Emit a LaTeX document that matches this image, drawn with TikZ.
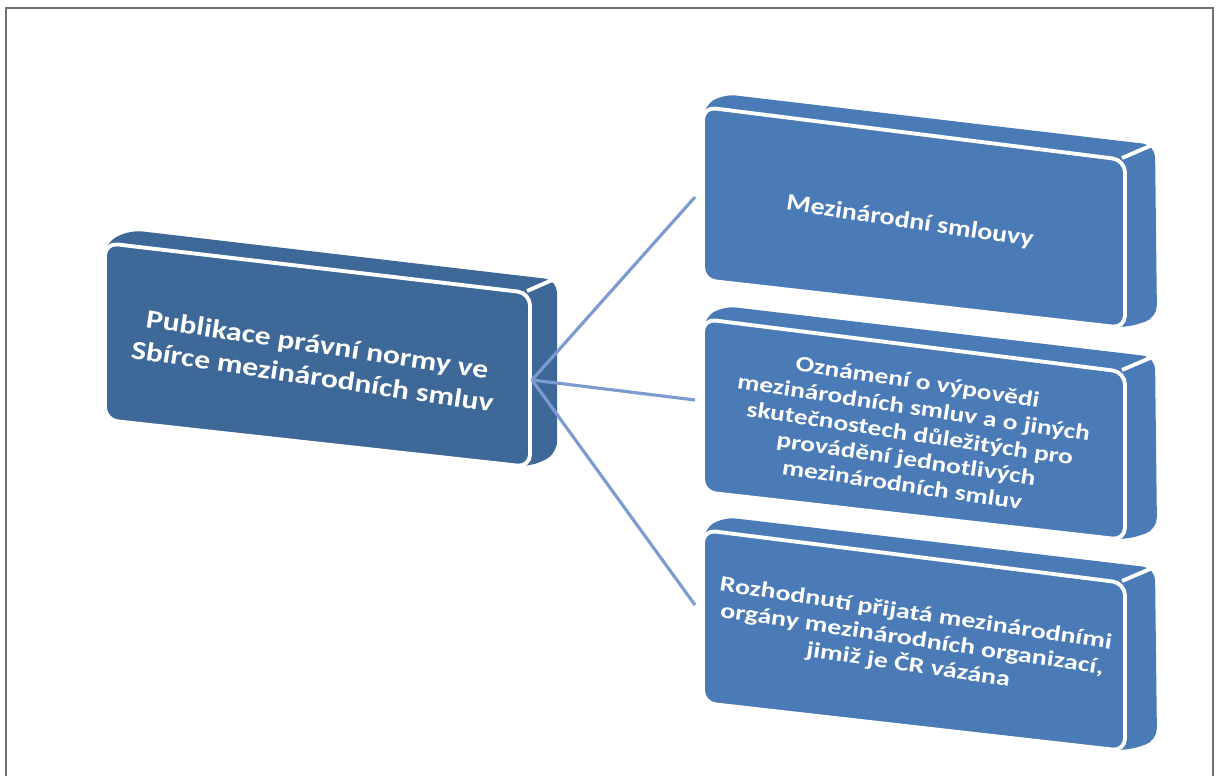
\documentclass[tikz,border=0pt]{standalone}
\usepackage{fontspec}
\setmainfont{Carlito}
\definecolor{darkslab}{HTML}{3D6897}
\definecolor{lightslab}{HTML}{4A7BB6}
\definecolor{spokeblue}{HTML}{7C9BD0}
\definecolor{framegray}{HTML}{707070}
\begin{document}
\begin{tikzpicture}[x=0.02cm, y=-0.02cm,
  backface/.style={rounded corners=0.25cm},
  frontface/.style={rounded corners=0.25cm, draw=white, line width=2.2pt},
  edgeline/.style={draw=white, line width=2.2pt},
  bigtext/.style={text=white, font=\bfseries\fontsize{15}{18.5}\selectfont, align=center, rotate=-8.5, xscale=1.2},
  boxtext/.style={text=white, font=\bfseries\fontsize{12.5}{14.8}\selectfont, align=center, rotate=-8.5, xscale=1.25},
  spoke/.style={draw=spokeblue, line width=1.8pt}]
\useasboundingbox (0,0) rectangle (1216,776);
\draw[framegray, line width=1pt] (6,790) -- (6,8) -- (1213,8) -- (1213,790);
% left slab
\fill[darkslab, backface] (130,230) -- (557,280) -- (557,454) -- (530,467) -- (105,420) -- (105,243) -- cycle;
\filldraw[fill=darkslab, frontface] (105,243) -- (530,293) -- (530,467) -- (105,420) -- cycle;
\path[edgeline] (527,291) -- (557,278);
\node[bigtext] (pub) at (315,360) {Publikace právní normy ve\\Sbírce mezinárodních smluv};
% right slabs
\fill[lightslab, backface] (723,94) -- (1155,145) -- (1157,318) -- (1125,328) -- (703,280) -- (703,107) -- cycle;
\filldraw[fill=lightslab, frontface] (703,107) -- (1125,160) -- (1125,328) -- (703,280) -- cycle;
\path[edgeline] (1122,158) -- (1157,143);
\node[boxtext, font=\bfseries\fontsize{13.5}{16}\selectfont, xscale=0.94] (smlouvy) at (910,222) {Mezinárodní smlouvy};
\fill[lightslab, backface] (723,306) -- (1155,357) -- (1157,530) -- (1125,540) -- (703,492) -- (703,319) -- cycle;
\filldraw[fill=lightslab, frontface] (703,319) -- (1125,372) -- (1125,540) -- (703,492) -- cycle;
\path[edgeline] (1122,370) -- (1157,355);
\node[boxtext] (oznameni) at (910,433) {Oznámení o výpovědi\\mezinárodních smluv a o jiných\\skutečnostech důležitých pro\\provádění jednotlivých\\mezinárodních smluv};
\fill[lightslab, backface] (723,517) -- (1155,568) -- (1157,741) -- (1125,751) -- (703,703) -- (703,530) -- cycle;
\filldraw[fill=lightslab, frontface] (703,530) -- (1125,583) -- (1125,751) -- (703,703) -- cycle;
\path[edgeline] (1122,581) -- (1157,566);
\node[boxtext, xscale=1.02] (rozhodnuti) at (912,640) {Rozhodnutí přijatá mezinárodními\\orgány mezinárodních organizací,\\jimiž je ČR vázána};
% connectors
\coordinate (hub) at (532,380);
\coordinate (in1) at (695,197);
\coordinate (in2) at (695,400);
\coordinate (in3) at (695,605);
\path [-, spoke] (hub) edge (in1);
\path [-, spoke] (hub) edge (in2);
\path [-, spoke] (hub) edge (in3);
\end{tikzpicture}
\end{document}
